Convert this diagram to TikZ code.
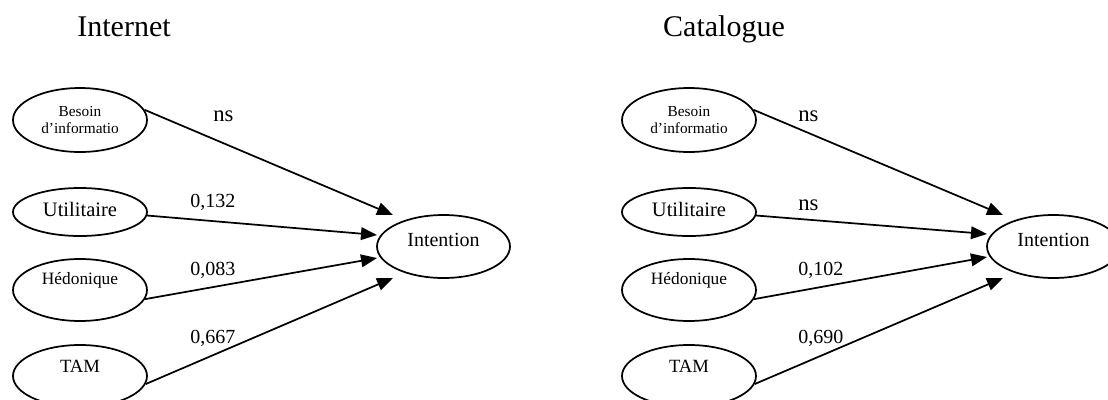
\documentclass[tikz,border=0pt]{standalone}
\usepackage{fontspec}
\setmainfont{Liberation Serif}
\usetikzlibrary{shapes.geometric,arrows.meta}
\begin{document}
\begin{tikzpicture}[x=0.75pt,y=-0.75pt,
  ell/.style={draw, ellipse, line width=1.3pt, inner sep=0pt, minimum width=100.5pt},
  conn/.style={line width=1.3pt, -{Triangle[length=12pt,width=9.5pt]}},
  ptitle/.style={font=\fontsize{22.5}{27}\selectfont, anchor=base, inner sep=0pt},
  coef/.style={font=\fontsize{15}{18}\selectfont, anchor=base west, inner sep=0pt},
  nsl/.style={font=\fontsize{17}{20}\selectfont, anchor=base west, inner sep=0pt},
  besoin/.style={ell, minimum height=48pt, font=\fontsize{11.5}{12.5}\selectfont, align=center},
  util/.style={ell, minimum height=36pt, font=\fontsize{15.4}{18}\selectfont, text height=6.75pt, text depth=0pt},
  hedo/.style={ell, minimum height=46.5pt, font=\fontsize{13}{15}\selectfont, text height=0pt, text depth=8.25pt},
  tam/.style={ell, minimum height=46.5pt, font=\fontsize{14}{16}\selectfont, text height=0pt, text depth=6pt},
  intent/.style={ell, minimum width=99.75pt, minimum height=47.25pt, font=\fontsize{15}{18}\selectfont, text height=0pt, text depth=0pt}]
\useasboundingbox (0,0) rectangle (1108,400);
\clip (0,0) rectangle (1108,400);

% ---------- Internet panel ----------
\node[ptitle] (tI) at (124,36) {Internet};
\node[besoin] (ib) at (80,120) {Besoin\\d’informatio};
\node[util] (iu) at (80,212) {Utilitaire};
\node[hedo] (ih) at (80,290) {Hédonique};
\node[tam] (it) at (80,376) {TAM};
\node[intent] (ii) at (443.5,246.5) {Intention};
\coordinate (ia) at (393,215);
\coordinate (ic) at (377,235);
\coordinate (id) at (377,258);
\coordinate (ie) at (393,278);
\draw[conn] (ib.9) -- (ia);
\draw[conn] (iu.-3) -- (ic);
\draw[conn] (ih.-8) -- (id);
\draw[conn] (it.-7) -- (ie);
\node[nsl] (il1) at (213,121) {ns};
\node[coef] (il2) at (190,207) {0,132};
\node[coef] (il3) at (190,275) {0,083};
\node[coef] (il4) at (190,343) {0,667};

% ---------- Catalogue panel ----------
\node[ptitle] (tC) at (724,36) {Catalogue};
\begin{scope}[xshift=456.75pt]
\node[besoin] (cb) at (80,120) {Besoin\\d’informatio};
\node[util] (cu) at (80,212) {Utilitaire};
\node[hedo] (ch) at (80,290) {Hédonique};
\node[tam] (ct) at (80,376) {TAM};
\node[intent] (ci) at (444.5,246.5) {Intention};
\coordinate (ca) at (394,215);
\coordinate (cc) at (378,234);
\coordinate (cd) at (378,257);
\coordinate (ce) at (394,278);
\draw[conn] (cb.9) -- (ca);
\draw[conn] (cu.-3) -- (cc);
\draw[conn] (ch.-8) -- (cd);
\draw[conn] (ct.-7) -- (ce);
\node[nsl] (cl1) at (189,121) {ns};
\node[nsl] (cl2) at (189,210) {ns};
\node[coef] (cl3) at (189,275) {0,102};
\node[coef] (cl4) at (189,343) {0,690};
\end{scope}
\end{tikzpicture}
\end{document}
